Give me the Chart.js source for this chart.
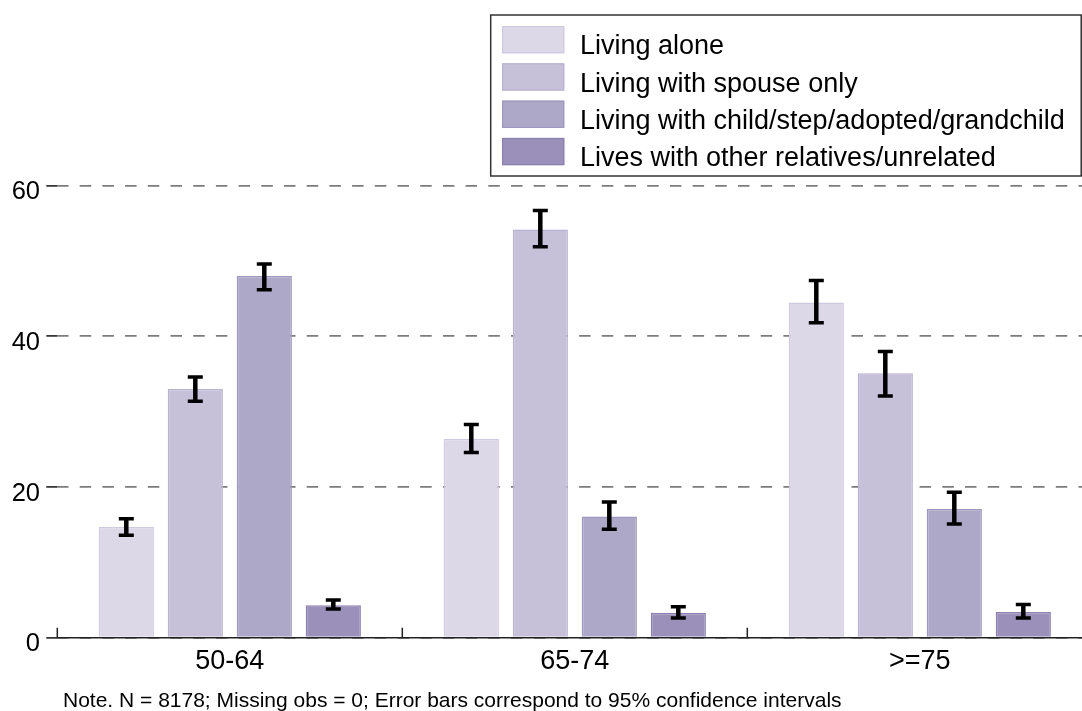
<!DOCTYPE html>
<html>
<head>
<meta charset="utf-8">
<script src="https://cdn.jsdelivr.net/npm/chart.js@4.4.1/dist/chart.umd.min.js"></script>
<style>
    html, body { margin: 0; padding: 0; background: #fff; overflow: hidden; }
    #wrap { position: absolute; left: 0; top: 0; width: 1100px; height: 711px; }
</style>
</head>
<body>
<div id="wrap"><canvas id="chart" width="1100" height="711"></canvas></div>
<script>
// Categories and series
const categories = ['50-64', '65-74', '>=75'];
const seriesLabels = [
    'Living alone',
    'Living with spouse only',
    'Living with child/step/adopted/grandchild',
    'Lives with other relatives/unrelated'
];
const aloneVals  = [14.7, 26.4, 44.5];
const spouseVals = [33.0, 54.2, 35.1];
const childVals  = [48.0, 16.1, 17.1];
const otherVals  = [4.3, 3.3, 3.4];

// 95% confidence intervals (lower / upper)
const aloneLo  = [13.6, 24.6, 41.8];
const aloneHi  = [15.8, 28.3, 47.4];
const spouseLo = [31.4, 51.9, 32.1];
const spouseHi = [34.6, 56.7, 38.0];
const childLo  = [46.2, 14.4, 15.1];
const childHi  = [49.6, 18.0, 19.3];
const otherLo  = [3.8, 2.6, 2.6];
const otherHi  = [5.0, 4.1, 4.4];

const yTicks = [0, 20, 40, 60];
const noteText = 'Note. N = 8178; Missing obs = 0; Error bars correspond to 95% confidence intervals';

const fills   = ['#dcd8e8', '#c6c1d9', '#aea8c8', '#9b90b9'];
const borders = ['#cfcae0', '#b9b2d0', '#9f97bf', '#8b80b0'];
const FONT = '"Liberation Sans", Arial, Helvetica, sans-serif';

const values = [aloneVals, spouseVals, childVals, otherVals];
const lows   = [aloneLo, spouseLo, childLo, otherLo];
const highs  = [aloneHi, spouseHi, childHi, otherHi];

// Error bars on top of the bars
const errorBars = {
    id: 'errorBars',
    afterDatasetsDraw(chart) {
        const ctx = chart.ctx;
        const y = chart.scales.y;
        ctx.save();
        ctx.strokeStyle = '#000';
        chart.data.datasets.forEach((ds, i) => {
            const meta = chart.getDatasetMeta(i);
            meta.data.forEach((bar, j) => {
                const yLo = y.getPixelForValue(ds.lo[j]);
                const yHi = y.getPixelForValue(ds.hi[j]);
                ctx.lineWidth = 4.5;
                ctx.beginPath();
                ctx.moveTo(bar.x, yHi);
                ctx.lineTo(bar.x, yLo);
                ctx.stroke();
                ctx.lineWidth = 3.5;
                ctx.beginPath();
                ctx.moveTo(bar.x - 7.5, yHi);
                ctx.lineTo(bar.x + 7.5, yHi);
                ctx.moveTo(bar.x - 7.5, yLo);
                ctx.lineTo(bar.x + 7.5, yLo);
                ctx.stroke();
            });
        });
        ctx.restore();
    }
};

// Legend box, category ticks and note
const extras = {
    id: 'extras',
    afterDraw(chart) {
        const ctx = chart.ctx;
        const area = chart.chartArea;
        const x = chart.scales.x;
        ctx.save();

        // inner ticks at category boundaries
        const catW = (area.right - area.left) / categories.length;
        ctx.strokeStyle = '#222';
        ctx.lineWidth = 1.5;
        ctx.beginPath();
        for (let i = 0; i <= categories.length; i++) {
            const px = x.getPixelForValue(0) - catW / 2 + i * catW;
            ctx.moveTo(px, area.bottom - 10);
            ctx.lineTo(px, area.bottom);
        }
        ctx.stroke();

        // legend
        ctx.strokeStyle = '#333';
        ctx.lineWidth = 1.5;
        ctx.strokeRect(490.7, 15, 590.5, 161);
        ctx.font = '27px ' + FONT;
        ctx.textBaseline = 'alphabetic';
        chart.data.datasets.forEach((ds, i) => {
            const top = 26 + i * 37.3;
            ctx.fillStyle = ds.backgroundColor;
            ctx.fillRect(502, top, 62.3, 27.3);
            ctx.strokeStyle = ds.borderColor;
            ctx.lineWidth = 1.2;
            ctx.strokeRect(502.6, top + 0.6, 61.1, 26.1);
            ctx.fillStyle = '#000';
            ctx.fillText(ds.label, 580, top + 28.2);
        });

        // note
        ctx.font = '21px ' + FONT;
        ctx.fillStyle = '#000';
        ctx.fillText(noteText, 63, 707);
        ctx.restore();
    }
};

new Chart(document.getElementById('chart'), {
    type: 'bar',
    data: {
        labels: categories,
        datasets: seriesLabels.map((label, i) => ({
            label: label,
            data: values[i],
            lo: lows[i],
            hi: highs[i],
            backgroundColor: fills[i],
            borderColor: borders[i],
            borderWidth: 1.5,
            categoryPercentage: 0.8,
            barPercentage: 0.8
        }))
    },
    options: {
        responsive: false,
        animation: false,
        layout: {
            padding: { top: 185.7, right: 7.7, bottom: 33.3, left: 0 }
        },
        plugins: {
            legend: { display: false },
            tooltip: { enabled: false }
        },
        scales: {
            x: {
                z: 1,
                grid: { display: false, drawTicks: false },
                border: { display: true, color: '#222', width: 1.6 },
                ticks: {
                    color: '#000',
                    padding: 8,
                    font: { family: FONT, size: 27 }
                },
                afterFit: s => { s.height = 40; }
            },
            y: {
                min: 0,
                max: 60,
                grid: {
                    color: '#7c7c7c',
                    lineWidth: 1.8,
                    drawTicks: true,
                    tickLength: 11,
                    tickColor: '#222',
                    tickWidth: 1.6
                },
                border: { display: false, dash: [11.5, 11.2] },
                afterBuildTicks: s => { s.ticks = yTicks.map(v => ({ value: v })); },
                ticks: {
                    color: '#000',
                    padding: 6.3,
                    labelOffset: 6.5,
                    font: { family: FONT, size: 25.5 }
                },
                afterFit: s => { s.width = 57.3; }
            }
        }
    },
    plugins: [errorBars, extras]
});
</script>
</body>
</html>
